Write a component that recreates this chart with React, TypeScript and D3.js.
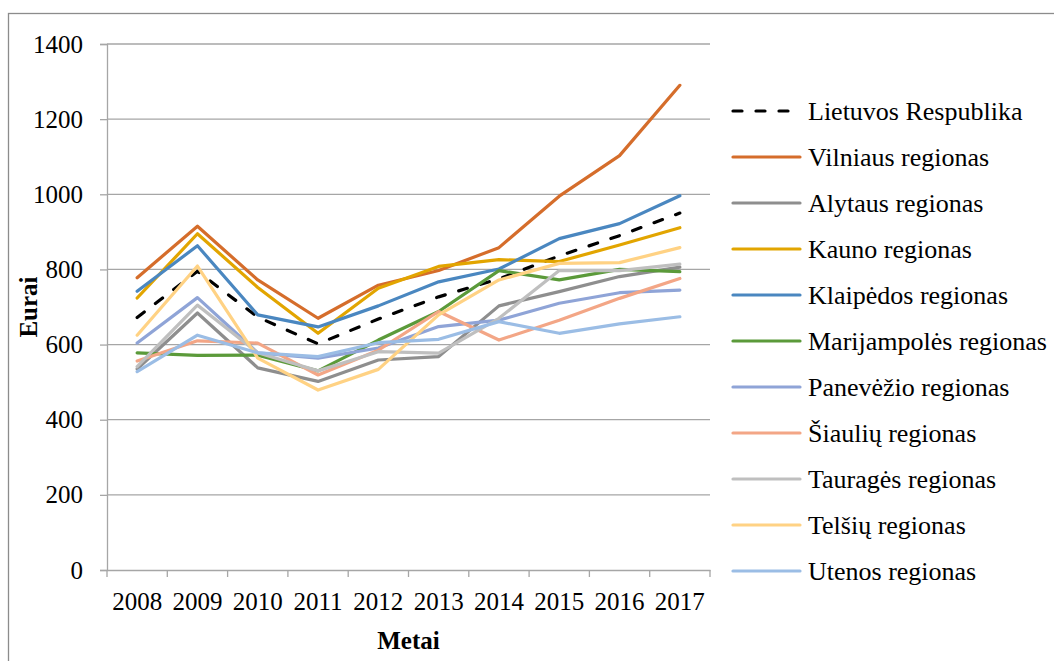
import React, { useRef, useEffect } from "react";
import * as d3 from "d3";

const years = ["2008", "2009", "2010", "2011", "2012", "2013", "2014", "2015", "2016", "2017"];
const yTicks = [0, 200, 400, 600, 800, 1000, 1200, 1400];

const seriesNames = [
	"Lietuvos Respublika",
	"Vilniaus regionas",
	"Alytus regionas",
	"Kauno regionas",
	"Klaipėdos regionas",
	"Marijampolės regionas",
	"Panevėžio regionas",
	"Šiaulių regionas",
	"Tauragės regionas",
	"Telšių regionas",
	"Utenos regionas",
];
seriesNames[2] = "Alytaus regionas";

const lietuva = [672, 795, 673, 602, 668, 727, 775, 836, 890, 950];
const vilnius = [778, 915, 772, 670, 758, 797, 858, 995, 1103, 1290];
const alytus = [535, 684, 538, 502, 559, 568, 703, 741, 781, 806];
const kaunas = [724, 895, 752, 630, 750, 808, 826, 821, 865, 911];
const klaipeda = [742, 863, 679, 647, 703, 767, 801, 882, 922, 996];
const marijampole = [578, 571, 572, 530, 612, 688, 797, 772, 800, 794];
const panevezys = [604, 725, 578, 564, 591, 648, 665, 710, 738, 745];
const siauliai = [556, 610, 604, 519, 585, 688, 612, 665, 723, 776];
const taurage = [541, 705, 578, 530, 581, 577, 670, 797, 797, 814];
const telsiai = [625, 809, 564, 479, 534, 679, 772, 816, 818, 858];
const utena = [528, 625, 578, 568, 605, 614, 661, 630, 655, 674];

const seriesValues = [lietuva, vilnius, alytus, kaunas, klaipeda, marijampole, panevezys, siauliai, taurage, telsiai, utena];
const seriesColors = [
	"#000000", "#D56D2B", "#8E8E8E", "#E2A500", "#4A87C0",
	"#5B9A3A", "#8FA4D7", "#F3A686", "#BFBFBF", "#FFD284", "#9BBDE5",
];

const FONT = "'Liberation Serif', 'Times New Roman', serif";

const App = () => {
	const svgRef = useRef<SVGSVGElement | null>(null);

	useEffect(() => {
		if (!svgRef.current) return;
		const svg = d3.select(svgRef.current);
		svg.selectAll("*").remove();

		const width = 1054;
		const height = 661;
		const plot = { left: 107, right: 710, top: 44, bottom: 570 };

		svg.attr("width", width).attr("height", height);

		// outer frame
		svg.append("rect")
			.attr("x", 8.5)
			.attr("y", 13.5)
			.attr("width", width + 10)
			.attr("height", height + 10)
			.attr("fill", "white")
			.attr("stroke", "#8C8C8C")
			.attr("stroke-width", 1.3);

		const x = d3.scaleBand().domain(years).range([plot.left, plot.right]);
		const y = d3.scaleLinear().domain([0, 1400]).range([plot.bottom, plot.top]);

		// grid
		svg.append("g")
			.selectAll("line")
			.data(yTicks.filter((d) => d > 0))
			.join("line")
			.attr("x1", plot.left)
			.attr("x2", plot.right)
			.attr("y1", (d) => y(d))
			.attr("y2", (d) => y(d))
			.attr("stroke", "#A6A6A6")
			.attr("stroke-width", 1.3);

		// y axis
		const yAxis = d3.axisLeft(y).tickValues(yTicks).tickSize(7).tickPadding(17).tickFormat((d) => `${d}`);
		const yg = svg.append("g").attr("transform", `translate(${plot.left},0)`).call(yAxis);
		yg.select(".domain").attr("stroke", "#A6A6A6").attr("stroke-width", 1.3);
		yg.selectAll(".tick line").attr("stroke", "#A6A6A6").attr("stroke-width", 1.3);
		yg.selectAll(".tick text")
			.attr("font-family", FONT)
			.attr("font-size", 25)
			.attr("fill", "#000");

		// x axis
		const xAxis = d3.axisBottom(x).tickSize(0).tickPadding(22);
		const xg = svg.append("g").attr("transform", `translate(0,${plot.bottom})`).call(xAxis);
		xg.select(".domain").attr("stroke", "#A6A6A6").attr("stroke-width", 1.3);
		xg.selectAll(".tick text")
			.attr("font-family", FONT)
			.attr("font-size", 25)
			.attr("fill", "#000");
		const bounds = years.map((d) => x(d)!).concat([plot.right]);
		xg.selectAll(".xb")
			.data(bounds)
			.join("line")
			.attr("class", "xb")
			.attr("x1", (d) => d)
			.attr("x2", (d) => d)
			.attr("y1", 0)
			.attr("y2", 7)
			.attr("stroke", "#A6A6A6")
			.attr("stroke-width", 1.3);

		// axis titles
		svg.append("text")
			.attr("transform", `translate(37,307) rotate(-90)`)
			.attr("text-anchor", "middle")
			.attr("font-family", FONT)
			.attr("font-weight", "bold")
			.attr("font-size", 25)
			.text("Eurai");
		svg.append("text")
			.attr("x", (plot.left + plot.right) / 2)
			.attr("y", 649)
			.attr("text-anchor", "middle")
			.attr("font-family", FONT)
			.attr("font-weight", "bold")
			.attr("font-size", 25)
			.text("Metai");

		// lines
		const line = d3
			.line<number>()
			.x((_, i) => x(years[i])! + x.bandwidth() / 2)
			.y((d) => y(d));

		seriesValues.forEach((vals, i) => {
			svg.append("path")
				.datum(vals)
				.attr("d", line)
				.attr("fill", "none")
				.attr("stroke", seriesColors[i])
				.attr("stroke-width", 3.2)
				.attr("stroke-linejoin", "round")
				.attr("stroke-linecap", "round")
				.attr("stroke-dasharray", i === 0 ? "9,14" : null);
		});

		// legend
		const legend = svg.append("g");
		seriesNames.forEach((name, i) => {
			const ly = 111 + i * 46;
			legend.append("line")
				.attr("x1", 733)
				.attr("x2", 800)
				.attr("y1", ly)
				.attr("y2", ly)
				.attr("stroke", seriesColors[i])
				.attr("stroke-width", 3.2)
				.attr("stroke-linecap", "round")
				.attr("stroke-dasharray", i === 0 ? "9,14" : null);
			legend.append("text")
				.attr("x", 808)
				.attr("y", ly + 9)
				.attr("font-family", FONT)
				.attr("font-size", 26)
				.text(name);
		});
	}, []);

	return (
		<div style={{ position: "absolute", left: 0, top: 0 }}>
			<svg ref={svgRef}></svg>
		</div>
	);
};

export default App;
